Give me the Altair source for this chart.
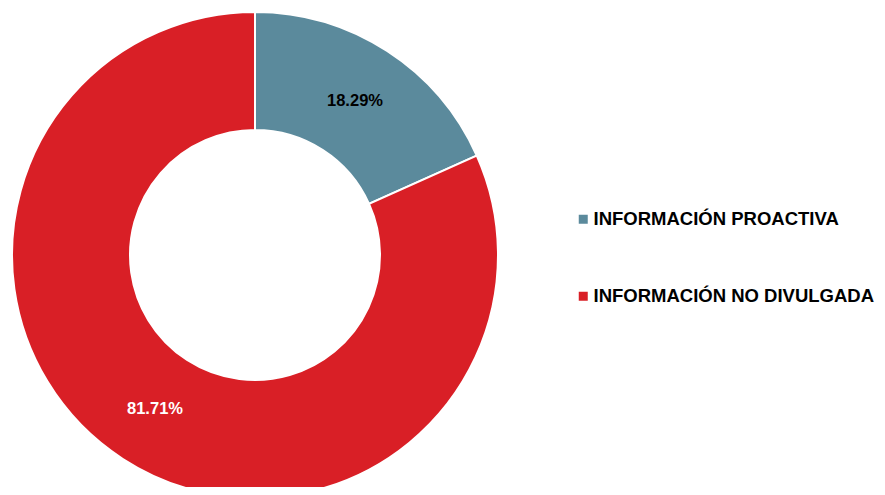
import altair as alt
import pandas as pd

categories = ["INFORMACIÓN PROACTIVA", "INFORMACIÓN NO DIVULGADA"]
values = [18.29, 81.71]
labels = ["18.29%", "81.71%"]
colors = ["#5B8A9C", "#D91F26"]
text_colors = ["#000000", "#FFFFFF"]

df = pd.DataFrame({
    "cat": categories,
    "val": values,
    "label": labels,
    "order": [0, 1],
    "tcol": text_colors,
})

FONT = "Liberation Sans, Arial, sans-serif"
cx, cy = 247, 247

base = alt.Chart(df).encode(
    theta=alt.Theta("val:Q", stack=True),
    order=alt.Order("order:Q"),
)

arcs = base.mark_arc(
    outerRadius=243, innerRadius=125, stroke="white", strokeWidth=2
).encode(
    x=alt.value(cx),
    y=alt.value(cy),
    color=alt.Color(
        "cat:N",
        scale=alt.Scale(domain=categories, range=colors),
        sort=categories,
        legend=alt.Legend(
            title=None,
            orient="none",
            legendX=566,
            legendY=202,
            symbolType="square",
            symbolSize=81,
            symbolStrokeWidth=0,
            labelFont=FONT,
            labelFontSize=18.5,
            labelFontWeight="bold",
            labelColor="#000000",
            rowPadding=58,
            labelOffset=1,
            labelLimit=400,
        ),
    ),
)

text = base.mark_text(
    radius=184, font=FONT, fontSize=16.5, fontWeight="bold"
).encode(
    x=alt.value(cx),
    y=alt.value(cy),
    text="label:N",
    color=alt.Color("tcol:N", scale=None),
)

chart = alt.layer(arcs, text).properties(
    width=869, height=479, padding=0, autosize=alt.AutoSizeParams(type="none")
).configure_view(stroke=None).resolve_scale(color="independent")

chart.save("out.html", embed_options={"renderer": "svg", "actions": False})
